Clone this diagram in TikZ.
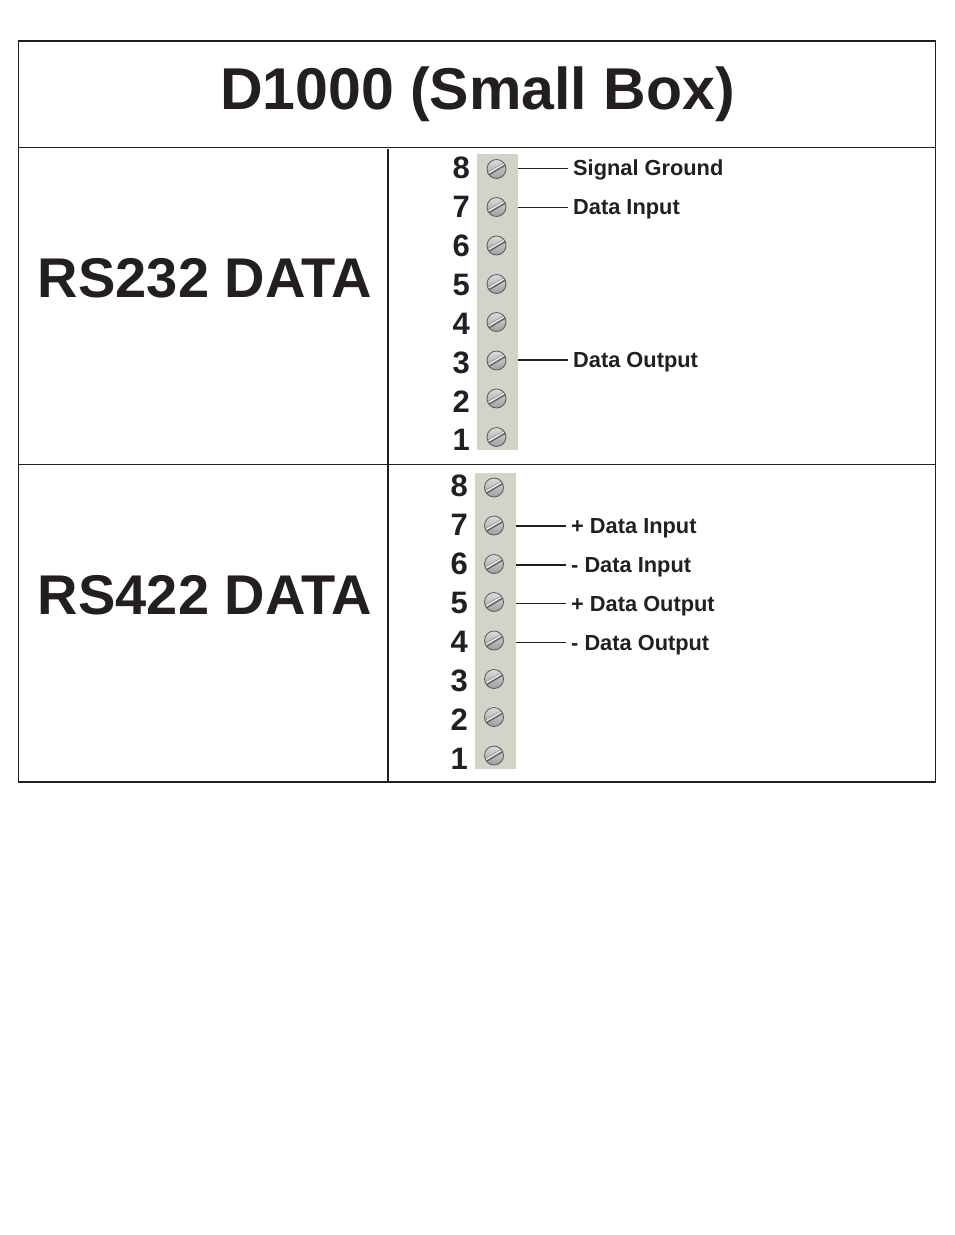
\documentclass[tikz,border=0pt]{standalone}
\usepackage{fontspec}
\setmainfont{Liberation Sans}
\definecolor{inkblack}{HTML}{231F20}
\definecolor{stripgray}{HTML}{D2D3C9}
\tikzset{
    titletext/.style={inner sep=0pt, text=inkblack, font=\fontsize{59}{59}\selectfont\bfseries},
    bigtext/.style={inner sep=0pt, text=inkblack, font=\fontsize{56}{56}\selectfont\bfseries},
    pinnumber/.style={anchor=east, inner sep=0pt, text=inkblack, font=\fontsize{31}{31}\selectfont\bfseries},
    pinlabel/.style={anchor=west, inner ysep=0pt, inner xsep=5pt, text=inkblack, font=\fontsize{21.8}{22}\selectfont\bfseries},
    strip/.style={fill=stripgray, inner sep=0pt, minimum width=41pt, minimum height=296pt},
    screw/.style={circle, inner sep=0pt, minimum size=19pt, draw=black!65, line width=0.8pt, top color=black!14, bottom color=black!38,
        path picture={
            \draw[line width=3.6pt, black!62] ([shift={(-11pt,-6.5pt)}]path picture bounding box.center) -- ([shift={(11pt,6.5pt)}]path picture bounding box.center);
            \draw[line width=1.6pt, white!92!black] ([shift={(-11pt,-5.8pt)}]path picture bounding box.center) -- ([shift={(11pt,7.2pt)}]path picture bounding box.center);
        }},
    wire/.style={line width=1pt, inkblack},
    heavywire/.style={line width=2pt, inkblack},
    rule/.style={line width=1.2pt, inkblack}
}
\begin{document}
\begin{tikzpicture}[x=1pt, y=-1pt]
    \useasboundingbox (0,0) rectangle (954,1235);
    % table frame
    \coordinate (TopLeft) at (18.5,40.5);
    \coordinate (TopRight) at (935.5,40.5);
    \coordinate (BotLeft) at (18.5,782);
    \coordinate (BotRight) at (935.5,782);
    \coordinate (MidTop) at (388,149);
    \draw[rule] (TopLeft) -- (BotLeft) -- (BotRight) -- (TopRight);
    \draw[rule, line width=2pt] (18,40.5) -- (936,40.5);
    \draw[rule] (18,147.6) -- (936,147.6);
    \draw[rule] (18,464.5) -- (936,464.5);
    \draw[rule, line width=2pt] (MidTop) -- (388,782);

    \node[titletext] (Title) at (477.5,94) {D1000 (Small Box)};
    \node[bigtext] (RSA) at (205,278) {RS232 DATA};
    \node[bigtext] (RSB) at (205,595) {RS422 DATA};

    % terminal strips
    \node[strip] (StripA) at (497.5,302) {};
    \node[strip] (StripB) at (495.5,621) {};
    \foreach \n/\sy/\ny in {8/169/168,7/207/207,6/245.5/246,5/284/285,4/322/324,3/360.5/363,2/398.5/402,1/437/440}{
        \node[screw] (ScrewA\n) at (496.5,\sy) {};
        \node[pinnumber] (NumA\n) at (470,\ny) {\n};
    }
    \foreach \n/\sy/\ny in {8/487.5/486,7/525.5/525,6/564/564,5/602/603,4/640.5/642,3/679/681,2/717/720,1/755.5/759}{
        \node[screw] (ScrewB\n) at (494,\sy) {};
        \node[pinnumber] (NumB\n) at (468,\ny) {\n};
    }

    % labels
    \node[pinlabel] (SigGnd) at (568,170) {Signal Ground};
    \node[pinlabel] (DataIn) at (568,209) {Data Input};
    \node[pinlabel] (DataOut) at (568,362) {Data Output};
    \node[pinlabel] (PlusIn) at (566,528) {+ Data Input};
    \node[pinlabel] (MinusIn) at (566,567) {- Data Input};
    \node[pinlabel] (PlusOut) at (566,606) {+ Data Output};
    \node[pinlabel] (MinusOut) at (566,645) {- Data Output};

    \coordinate (TapA8) at (StripA.east |- 0,168);
    \coordinate (TapA7) at (StripA.east |- 0,207);
    \coordinate (TapA3) at (StripA.east |- 0,360);
    \coordinate (TapB7) at (StripB.east |- 0,526);
    \coordinate (TapB6) at (StripB.east |- 0,565);
    \coordinate (TapB5) at (StripB.east |- 0,603.5);
    \coordinate (TapB4) at (StripB.east |- 0,642.5);
    \draw[wire] (TapA8) -- (TapA8 -| SigGnd.west);
    \draw[wire] (TapA7) -- (TapA7 -| DataIn.west);
    \draw[heavywire] (TapA3) -- (TapA3 -| DataOut.west);
    \draw[heavywire] (TapB7) -- (TapB7 -| PlusIn.west);
    \draw[heavywire] (TapB6) -- (TapB6 -| MinusIn.west);
    \draw[wire] (TapB5) -- (TapB5 -| PlusOut.west);
    \draw[wire] (TapB4) -- (TapB4 -| MinusOut.west);
\end{tikzpicture}
\end{document}
